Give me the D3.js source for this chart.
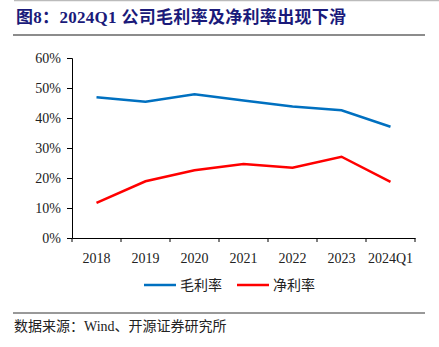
<!DOCTYPE html>
<html><head><meta charset="utf-8">
<script src="https://cdn.jsdelivr.net/npm/d3@7"></script>
<style>body{margin:0;background:#fff}svg{display:block}</style>
</head><body>
<script>
const categories = ["2018","2019","2020","2021","2022","2023","2024Q1"];
const grossMargin = [46.9, 45.4, 47.9, 45.8, 43.8, 42.6, 37.1];
const netMargin = [11.7, 18.9, 22.6, 24.7, 23.4, 27.1, 18.7];
const yTicks = [0,10,20,30,40,50,60];
const seriesNames = ["毛利率","净利率"];
const colors = ["#0070C0","#FF0000"];

const W=439,H=347;
const svg=d3.select("body").append("svg").attr("width",W).attr("height",H);
const serif='"Liberation Serif","Noto Sans CJK SC",serif';

// top line
svg.append("line").attr("x1",14).attr("x2",439).attr("y1",0.5).attr("y2",0.5).attr("stroke","#bbb").attr("stroke-width",1.5);
// title
svg.append("text").attr("x",16).attr("y",23).attr("fill","#1a1a7a")
  .style("font-family",serif).style("font-weight","bold").style("font-size","17px").style("letter-spacing","0.3px")
  .text("图8：2024Q1 公司毛利率及净利率出现下滑");
svg.append("line").attr("x1",13).attr("x2",425).attr("y1",35).attr("y2",35).attr("stroke","#8c8c8c").attr("stroke-width",2);

const x=d3.scaleBand().domain(categories).range([72,415]);
const y=d3.scaleLinear().domain([0,60]).range([238,58]);

const gx=svg.append("g").attr("transform","translate(0,238)")
  .call(d3.axisBottom(x).tickSize(0).tickFormat(d=>d));
gx.select(".domain").attr("stroke","#000");
gx.selectAll("text").style("font-family",serif).style("font-size","14px").attr("fill","#222").attr("dy","1.55em");
// tick marks at band edges
const edges=categories.map(c=>x(c)).concat([x.range()[1]]);
svg.append("g").selectAll("line").data(edges).join("line")
  .attr("x1",d=>d).attr("x2",d=>d).attr("y1",238).attr("y2",242).attr("stroke","#000");

const gy=svg.append("g").attr("transform","translate(72,0)")
  .call(d3.axisLeft(y).tickValues(yTicks).tickSize(5).tickFormat(d=>d+"%"));
gy.select(".domain").attr("stroke","#000");
gy.selectAll(".tick line").attr("stroke","#000");
gy.selectAll("text").style("font-family",serif).style("font-size","14px").attr("fill","#222").attr("x",-11);

const line=d3.line().x((d,i)=>x(categories[i])+x.bandwidth()/2).y(d=>y(d));
[grossMargin,netMargin].forEach((s,i)=>{
  svg.append("path").datum(s).attr("d",line).attr("fill","none").attr("stroke",colors[i]).attr("stroke-width",2.5);
});

// legend
const leg=[{x:144},{x:237}];
seriesNames.forEach((n,i)=>{
  svg.append("line").attr("x1",leg[i].x).attr("x2",leg[i].x+32).attr("y1",285).attr("y2",285).attr("stroke",colors[i]).attr("stroke-width",2.5);
  svg.append("text").attr("x",leg[i].x+36).attr("y",290).style("font-family",serif).style("font-size","14px").attr("fill","#222").text(n);
});

// footer
svg.append("line").attr("x1",13).attr("x2",425).attr("y1",313).attr("y2",313).attr("stroke","#333").attr("stroke-width",1);
svg.append("text").attr("x",14).attr("y",331).style("font-family",serif).style("font-size","14px").attr("fill","#222").text("数据来源：Wind、开源证券研究所");
</script>
</body></html>
